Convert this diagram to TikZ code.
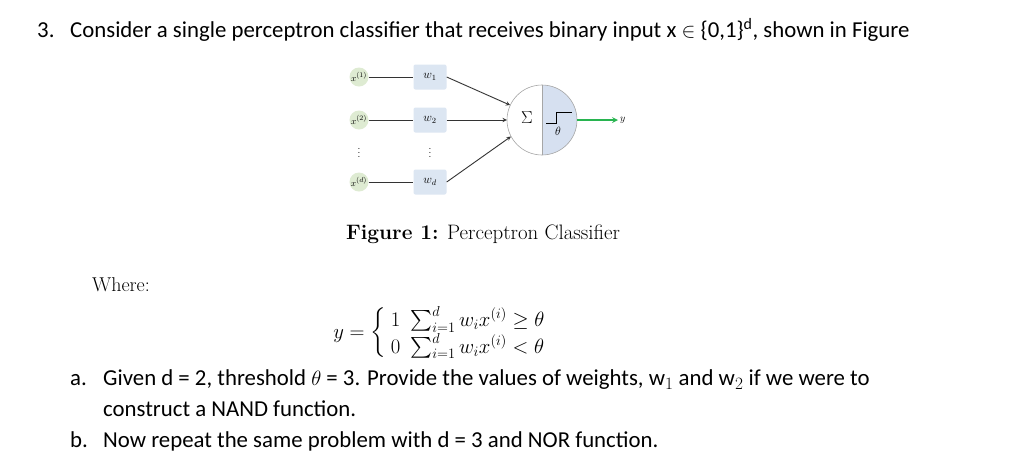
\documentclass[tikz,border=0pt]{standalone}
\usepackage{fontspec}
\usepackage{amsmath}
\newfontfamily\calfont{Carlito}
\definecolor{ingreen}{RGB}{222,235,210}
\definecolor{wblue}{RGB}{220,230,242}
\definecolor{nblue}{RGB}{214,224,240}
\definecolor{ygreen}{RGB}{40,180,80}
\tikzset{
  inp/.style={circle,fill=ingreen,minimum size=19pt,inner sep=0pt,font=\fontsize{9.5}{11}\selectfont},
  wbox/.style={rectangle,rounded corners=2pt,fill=wblue,minimum width=33pt,minimum height=25pt,inner sep=0pt,font=\fontsize{12}{14}\selectfont},
  txt/.style={anchor=base west,inner sep=0pt,font=\calfont\fontsize{22.8}{26}\selectfont},
  conn/.style={draw=black!80,line width=0.9pt},
  arr/.style={conn,-stealth},
  dotsn/.style={inner sep=0pt,font=\fontsize{10}{12}\selectfont}
}
\begin{document}
\begin{tikzpicture}[x=1pt,y=-1pt]
\useasboundingbox[fill=white] (0,0) rectangle (1020,467);
\node[txt] (n3) at (37,37) {3.};
\node[txt] (title) at (70,37) {Consider a single perceptron classifier that receives binary input x $\in$ \{0,1\}$^{\text{d}}$, shown in Figure};
% figure
\node[inp] (x1) at (359,77) {$x^{(1)}$};
\node[inp] (x2) at (359,120) {$x^{(2)}$};
\node[inp] (xd) at (359,182) {$x^{(d)}$};
\node[dotsn] (xdots) at (359,150) {$\vdots$};
\node[wbox] (w1) at (430,77) {$w_1$};
\node[wbox] (w2) at (430,120) {$w_2$};
\node[wbox] (wd) at (430,182) {$w_d$};
\node[dotsn] (wdots) at (430,150) {$\vdots$};
\node[circle,minimum size=70pt,inner sep=0pt] (neu) at (542,120) {};
\begin{scope}
\clip (542,80) rectangle (590,160);
\fill[nblue] (neu.center) circle (35pt);
\end{scope}
\draw[gray!70,line width=0.6pt] (neu.center) circle (35pt);
\draw[gray!70,line width=0.6pt] (neu.north) -- (neu.south);
\node[font=\fontsize{17}{20}\selectfont] (sig) at (527,118) {$\Sigma$};
\node[font=\fontsize{12}{14}\selectfont] (th) at (558,131) {$\theta$};
\draw[line width=0.7pt] (546,123) -- (556,123) -- (556,112) -- (572,112);
\coordinate (yend) at (618,120);
\node[font=\fontsize{10}{12}\selectfont,anchor=west,inner sep=1pt] (ylab) at (619,120) {$y$};
\draw[conn] (x1) -- (w1);
\draw[conn] (x2) -- (w2);
\draw[conn] (xd) -- (wd);
\draw[arr] (w1.east) -- (neu.155);
\draw[arr] (w2.east) -- (neu.west);
\draw[arr] (wd.east) -- (neu.208);
\draw[ygreen,line width=1.6pt,-stealth] (neu.east) -- (yend);
\node[font=\fontsize{20.9}{24}\selectfont] (cap) at (483,234) {\textbf{Figure 1:} Perceptron Classifier};
\node[anchor=base west,inner sep=0pt,font=\fontsize{20}{24}\selectfont] (where) at (92,291) {Where:};
\node[font=\fontsize{19.5}{22}\selectfont] (eq) at (442,333) {$y=\left\{\begin{array}{ll}1 & \sum_{i=1}^{d} w_i x^{(i)} \geq \theta\\ 0 & \sum_{i=1}^{d} w_i x^{(i)} < \theta\end{array}\right.$};
\node[txt] (la) at (70,385) {a.};
\node[txt] (ta) at (103,385) {Given d = 2, threshold $\theta$ = 3. Provide the values of weights, w$_1$ and w$_2$ if we were to};
\node[txt] (ta2) at (103,416) {construct a NAND function.};
\node[txt] (lb) at (70,447) {b.};
\node[txt] (tb) at (103,447) {Now repeat the same problem with d = 3 and NOR function.};
\end{tikzpicture}
\end{document}
